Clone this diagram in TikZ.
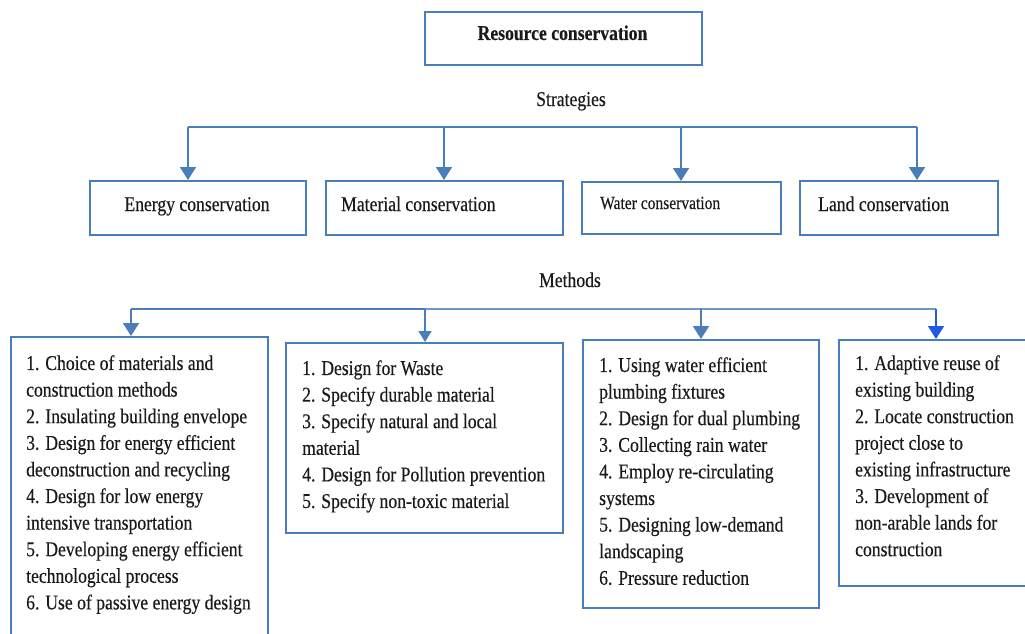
\documentclass[tikz,border=0pt]{standalone}
\usepackage{fontspec}
\setmainfont[FakeStretch=0.84,FakeBold=0.35]{Liberation Serif}
\usetikzlibrary{arrows.meta}
\definecolor{frame}{HTML}{4A7EBB}
\definecolor{bright}{HTML}{2158E8}
\definecolor{ink}{HTML}{1A1A1A}

\tikzset{
  box/.style={draw=frame, line width=1.8pt, inner sep=0pt},
  txt/.style={inner sep=0pt, text=ink, font=\fontsize{21}{26.6}\selectfont},
  listtxt/.style={txt, align=left, anchor=north west},
  bus/.style={draw=frame, line width=1.8pt},
  link/.style={draw=frame, line width=1.8pt, -{Triangle[length=13pt,width=16pt]}},
  thinlink/.style={draw=frame, line width=1.4pt, -{Triangle[length=11pt,width=13pt]}}
}

\begin{document}
\begin{tikzpicture}[x=1pt,y=-1pt]
\useasboundingbox (0,0) rectangle (1025,634);

% top level
\node[box, anchor=north west, minimum width=277pt, minimum height=53pt] (rcbox) at (424,11) {};
\node[txt, font=\fontsize{21}{26.6}\selectfont\bfseries, anchor=base] (rc) at (562.5,40) {Resource conservation};
\node[txt, anchor=base] (strat) at (571,106) {Strategies};

% strategies
\node[box, anchor=north west, minimum width=216pt, minimum height=54pt] (energy) at (89,180) {};
\node[box, anchor=north west, minimum width=237pt, minimum height=54pt] (material) at (325,180) {};
\node[box, anchor=north west, minimum width=199pt, minimum height=52pt] (water) at (581,181) {};
\node[box, anchor=north west, minimum width=198pt, minimum height=54pt] (land) at (799,180) {};

\node[txt, anchor=base] (energyt) at (197,211) {Energy conservation};
\node[txt, anchor=base west] (materialt) at (341,211) {Material conservation};
\node[txt, font=\fontsize{18.5}{22}\selectfont, anchor=base west] (watert) at (600,209) {Water conservation};
\node[txt, anchor=base west] (landt) at (818,211) {Land conservation};

\coordinate (s1) at (188,127);
\coordinate (s2) at (444,127);
\coordinate (s3) at (681,127);
\coordinate (s4) at (917,127);
\draw[bus] (s1) -- (s4);
\draw[link] (s1) -- (s1 |- energy.north);
\draw[link] (s2) -- (s2 |- material.north);
\draw[link] (s3) -- (s3 |- water.north);
\draw[link] (s4) -- (s4 |- land.north);

\node[txt, anchor=base] (meth) at (570,287) {Methods};

% methods
\node[box, anchor=north west, minimum width=257pt, minimum height=310pt] (m1) at (10,336) {};
\node[box, anchor=north west, minimum width=277pt, minimum height=190pt] (m2) at (285,342) {};
\node[box, anchor=north west, minimum width=236pt, minimum height=268pt] (m3) at (582,339) {};
\node[box, anchor=north west, minimum width=200pt, minimum height=246pt] (m4) at (838,339) {};

\coordinate (n1) at (131,309);
\coordinate (n2) at (425,309);
\coordinate (n3) at (701,309);
\coordinate (n4) at (936,309);
\draw[bus, line width=2.2pt] (n1) -- (n2);
\draw[bus, draw=frame!80] (n2) -- (n4);
\draw[link] (n1) -- (n1 |- m1.north);
\draw[thinlink] (n2) -- (n2 |- m2.north);
\draw[link] (n3) -- (n3 |- m3.north);
\draw[link, draw=bright, fill=bright] (n4) -- (n4 |- m4.north);

\node[listtxt] (m1t) at (26,355) {1. Choice of materials and\\construction methods\\2. Insulating building envelope\\3. Design for energy efficient\\deconstruction and recycling\\4. Design for low energy\\intensive transportation\\5. Developing energy efficient\\technological process\\6. Use of passive energy design};
\node[listtxt] (m2t) at (302,360) {1. Design for Waste\\2. Specify durable material\\3. Specify natural and local\\material\\4. Design for Pollution prevention\\5. Specify non-toxic material};
\node[listtxt] (m3t) at (599,357) {1. Using water efficient\\plumbing fixtures\\2. Design for dual plumbing\\3. Collecting rain water\\4. Employ re-circulating\\systems\\5. Designing low-demand\\landscaping\\6. Pressure reduction};
\node[listtxt] (m4t) at (855,355) {1. Adaptive reuse of\\existing building\\2. Locate construction\\project close to\\existing infrastructure\\3. Development of\\non-arable lands for\\construction};
\end{tikzpicture}
\end{document}
